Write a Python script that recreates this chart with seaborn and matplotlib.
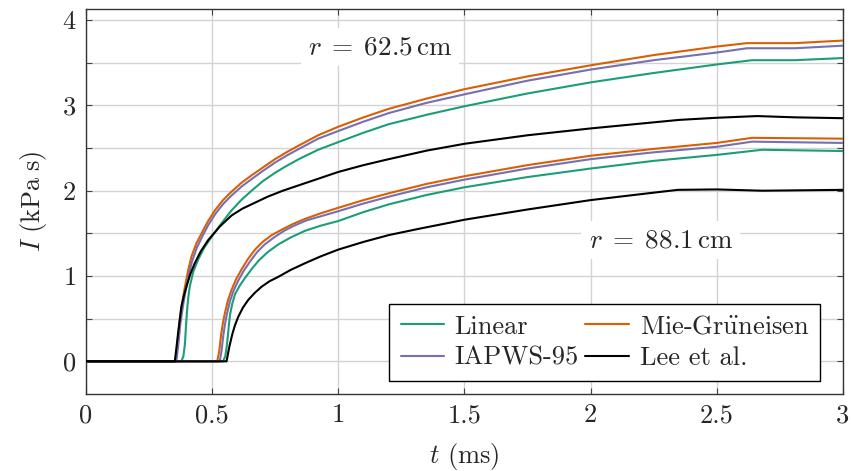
import numpy as np
import pandas as pd
import matplotlib
matplotlib.use("Agg")
import matplotlib.pyplot as plt
import seaborn as sns

# ---------------- data ----------------
# r = 62.5 cm
t_lin_a = [0, 0.378, 0.386, 0.392, 0.396, 0.400, 0.405, 0.411, 0.425, 0.444, 0.468, 0.498, 0.535, 0.577, 0.615, 0.656, 0.70, 0.749, 0.80, 0.85, 0.92, 1.0, 1.1, 1.2, 1.35, 1.5, 1.75, 2.0, 2.25, 2.5, 2.64, 2.81, 3.0]
i_lin_a = [0, 0, 0.06, 0.2, 0.4, 0.58, 0.74, 0.875, 1.05, 1.19, 1.33, 1.46, 1.61, 1.77, 1.89, 2.0, 2.11, 2.21, 2.30, 2.38, 2.48, 2.57, 2.68, 2.78, 2.89, 2.99, 3.14, 3.27, 3.38, 3.48, 3.53, 3.53, 3.555]
t_mie_a = [0, 0.356, 0.364, 0.372, 0.382, 0.392, 0.405, 0.418, 0.437, 0.458, 0.483, 0.511, 0.543, 0.577, 0.615, 0.656, 0.70, 0.749, 0.80, 0.85, 0.92, 1.0, 1.1, 1.2, 1.35, 1.5, 1.75, 2.0, 2.25, 2.5, 2.62, 2.81, 3.0]
i_mie_a = [0, 0, 0.26, 0.5, 0.70, 0.875, 1.07, 1.23, 1.38, 1.50, 1.64, 1.77, 1.89, 1.99, 2.09, 2.18, 2.27, 2.37, 2.46, 2.54, 2.65, 2.75, 2.86, 2.96, 3.08, 3.19, 3.34, 3.47, 3.59, 3.69, 3.73, 3.73, 3.76]
t_iap_a = [0, 0.358, 0.366, 0.374, 0.384, 0.394, 0.407, 0.420, 0.439, 0.460, 0.485, 0.513, 0.545, 0.579, 0.617, 0.658, 0.70, 0.749, 0.80, 0.85, 0.92, 1.0, 1.1, 1.2, 1.35, 1.5, 1.75, 2.0, 2.25, 2.5, 2.62, 2.81, 3.0]
i_iap_a = [0, 0, 0.2, 0.44, 0.64, 0.82, 1.01, 1.17, 1.33, 1.46, 1.60, 1.73, 1.85, 1.95, 2.05, 2.14, 2.23, 2.33, 2.42, 2.50, 2.61, 2.70, 2.81, 2.91, 3.03, 3.13, 3.29, 3.42, 3.53, 3.62, 3.67, 3.67, 3.70]
t_lee_a = [0, 0.352, 0.358, 0.365, 0.372, 0.378, 0.388, 0.398, 0.413, 0.431, 0.455, 0.484, 0.53, 0.577, 0.62, 0.67, 0.72, 0.78, 0.835, 0.92, 1.0, 1.1, 1.2, 1.35, 1.5, 1.75, 2.0, 2.35, 2.5, 2.66, 2.81, 3.0]
i_lee_a = [0, 0, 0.15, 0.33, 0.50, 0.64, 0.77, 0.875, 1.02, 1.15, 1.29, 1.42, 1.58, 1.71, 1.79, 1.86, 1.93, 2.00, 2.055, 2.14, 2.22, 2.30, 2.37, 2.47, 2.55, 2.65, 2.73, 2.83, 2.855, 2.875, 2.86, 2.85]

# r = 88.1 cm
t_lin_b = [0, 0.543, 0.552, 0.558, 0.563, 0.567, 0.571, 0.58, 0.591, 0.61, 0.631, 0.656, 0.684, 0.72, 0.762, 0.81, 0.868, 0.93, 1.0, 1.1, 1.2, 1.35, 1.5, 1.75, 2.0, 2.25, 2.5, 2.68, 3.0]
i_lin_b = [0, 0, 0.06, 0.18, 0.32, 0.45, 0.55, 0.68, 0.79, 0.89, 0.98, 1.08, 1.18, 1.28, 1.37, 1.45, 1.53, 1.59, 1.645, 1.75, 1.84, 1.95, 2.04, 2.16, 2.26, 2.35, 2.42, 2.48, 2.465]
t_mie_b = [0, 0.52, 0.528, 0.535, 0.542, 0.550, 0.562, 0.577, 0.596, 0.617, 0.642, 0.670, 0.70, 0.736, 0.78, 0.82, 0.868, 0.93, 1.0, 1.1, 1.2, 1.35, 1.5, 1.75, 2.0, 2.25, 2.5, 2.64, 3.0]
i_mie_b = [0, 0, 0.12, 0.3, 0.44, 0.56, 0.71, 0.84, 0.97, 1.08, 1.20, 1.31, 1.40, 1.48, 1.55, 1.61, 1.67, 1.735, 1.80, 1.89, 1.97, 2.08, 2.17, 2.30, 2.41, 2.49, 2.56, 2.62, 2.61]
t_iap_b = [0, 0.53, 0.537, 0.544, 0.551, 0.559, 0.57, 0.585, 0.604, 0.625, 0.65, 0.678, 0.708, 0.744, 0.785, 0.825, 0.872, 0.93, 1.0, 1.1, 1.2, 1.35, 1.5, 1.75, 2.0, 2.25, 2.5, 2.64, 3.0]
i_iap_b = [0, 0, 0.12, 0.3, 0.44, 0.56, 0.70, 0.83, 0.95, 1.06, 1.17, 1.28, 1.37, 1.45, 1.53, 1.59, 1.65, 1.70, 1.76, 1.85, 1.93, 2.04, 2.13, 2.26, 2.37, 2.45, 2.515, 2.575, 2.56]
t_lee_b = [0, 0.557, 0.568, 0.58, 0.59, 0.603, 0.622, 0.643, 0.668, 0.696, 0.728, 0.762, 0.81, 0.868, 0.93, 1.0, 1.1, 1.2, 1.33, 1.45, 1.5, 1.75, 2.0, 2.2, 2.345, 2.5, 2.68, 3.0]
i_lee_b = [0, 0, 0.17, 0.32, 0.42, 0.52, 0.63, 0.72, 0.80, 0.875, 0.94, 0.99, 1.07, 1.15, 1.23, 1.31, 1.40, 1.48, 1.56, 1.63, 1.66, 1.78, 1.89, 1.96, 2.01, 2.015, 2.0, 2.01]

models = ["Linear", r"Mie-Gr$\ddot{\mathrm{u}}$neisen", "IAPWS-95", "Lee et al."]
colors = ["#1b9e77", "#d95f02", "#7570b3", "#000000"]
x_ticks = [0, 0.5, 1, 1.5, 2, 2.5, 3]
x_tick_labels = ["0", "0.5", "1", "1.5", "2", "2.5", "3"]
y_ticks = [0, 1, 2, 3, 4]

series = [
    (models[0], "62.5", t_lin_a, i_lin_a), (models[1], "62.5", t_mie_a, i_mie_a),
    (models[2], "62.5", t_iap_a, i_iap_a), (models[3], "62.5", t_lee_a, i_lee_a),
    (models[0], "88.1", t_lin_b, i_lin_b), (models[1], "88.1", t_mie_b, i_mie_b),
    (models[2], "88.1", t_iap_b, i_iap_b), (models[3], "88.1", t_lee_b, i_lee_b),
]
frames = []
for m, r, t, i in series:
    frames.append(pd.DataFrame({"t": t, "I": i, "model": m, "r": r}))
df = pd.concat(frames, ignore_index=True)

# ---------------- style ----------------
sns.set_style("ticks")
plt.rcParams["font.family"] = ["cmr10", "DejaVu Serif"]
plt.rcParams["mathtext.fontset"] = "cm"
plt.rcParams["axes.formatter.use_mathtext"] = True
plt.rcParams["axes.unicode_minus"] = False

FS = 19

fig = plt.figure(figsize=(8.51, 4.71), dpi=100)
ax = fig.add_axes([86 / 851, 1 - 394 / 471, (843 - 86) / 851, (394 - 9) / 471])

sns.lineplot(data=df, x="t", y="I", hue="model", units="r", estimator=None,
             hue_order=models, palette=dict(zip(models, colors)),
             linewidth=1.5, sort=False, ax=ax, legend=True, zorder=3)

ax.set_xlim(0, 3)
ax.set_ylim(-0.383, 4.13)
ax.set_xticks(x_ticks)
ax.set_xticklabels(x_tick_labels)
ax.set_yticks(y_ticks)
ax.set_yticks([0.5, 1.5, 2.5, 3.5], minor=True)
ax.grid(True, which="both", color="#d3d3d3", linewidth=1.0, zorder=0)
ax.set_axisbelow(True)
ax.tick_params(which="both", direction="in", top=True, right=True,
               length=4, width=0.8, color="#444444", labelsize=FS, pad=7)
for s in ax.spines.values():
    s.set_color("#333333")
    s.set_linewidth(1.0)

ax.set_xlabel(r"$t$ (ms)", fontsize=FS, labelpad=10)
ax.set_ylabel(r"$I\ (\mathrm{kPa\;s})$", fontsize=FS, labelpad=9)

bbox = dict(facecolor="white", edgecolor="none", pad=5)
ax.text(1.165, 3.68, r"$r\;=\;62.5\,\mathrm{cm}$", fontsize=FS + 0.5, ha="center", va="center",
        bbox=bbox, zorder=2)
ax.text(2.277, 1.42, r"$r\;=\;88.1\,\mathrm{cm}$", fontsize=FS + 0.5, ha="center", va="center",
        bbox=bbox, zorder=2)

h, l = ax.get_legend_handles_labels()
hmap = dict(zip(l, h))
order = [models[0], models[2], models[1], models[3]]
leg = ax.legend([hmap[k] for k in order], order, ncol=2, loc="lower right",
                bbox_to_anchor=(0.97, 0.034), fontsize=FS, frameon=True,
                fancybox=False, edgecolor="black", framealpha=1,
                handlelength=1.65, handletextpad=0.4, columnspacing=0.25,
                borderpad=0.42, labelspacing=0.28, borderaxespad=0)
leg.get_frame().set_linewidth(1.0)
leg.set_zorder(5)

fig.savefig("out.png", dpi=100)
